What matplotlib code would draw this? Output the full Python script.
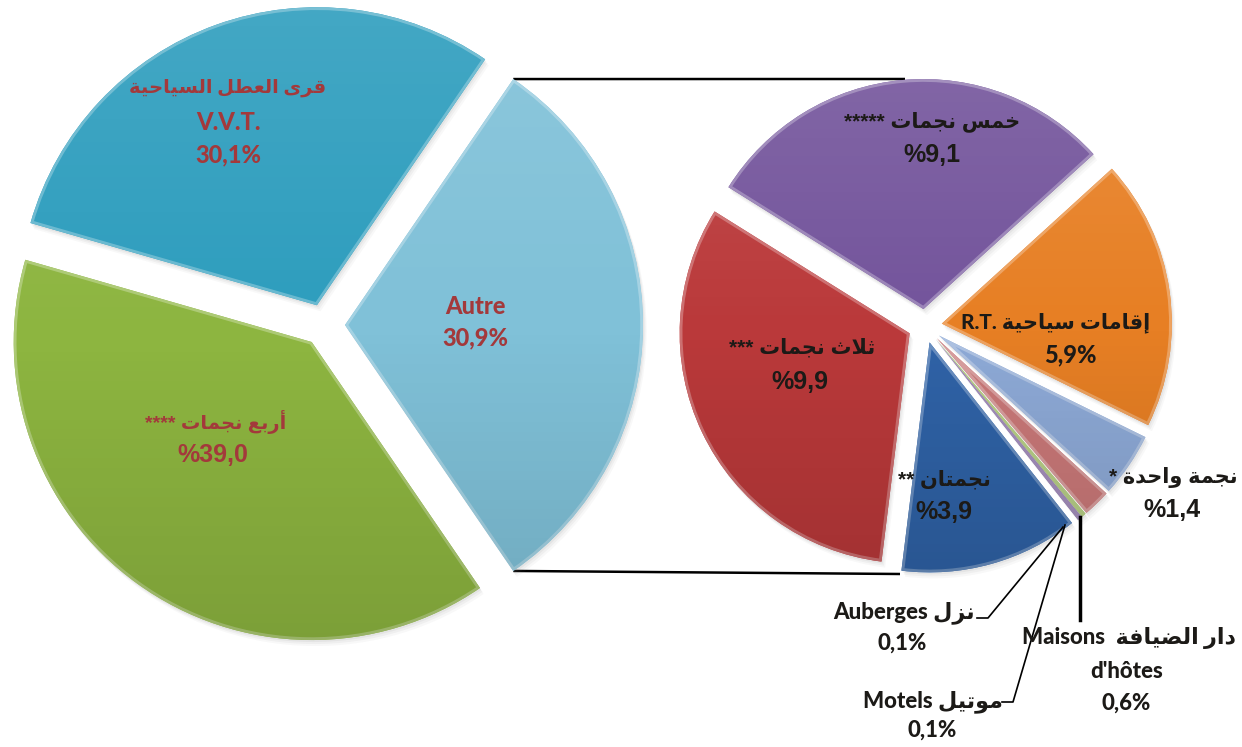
import numpy as np
import matplotlib
matplotlib.use('Agg')
import matplotlib.pyplot as plt
from matplotlib.patches import Wedge
from matplotlib.colors import to_rgb

# ---------------- data ----------------
main_names = ['Autre', 'V.V.T.', 'Quatre etoiles']
main_values = [30.9, 30.1, 39.0]
main_colors = ['#80C1D8', '#2F9EBE', '#8DB540']

sub_names = ['Cinq etoiles', 'R.T.', 'Une etoile', "Maisons d'hotes",
             'Motels', 'Auberges', 'Deux etoiles', 'Trois etoiles']
sub_values = [9.1, 5.9, 1.4, 0.6, 0.1, 0.1, 3.9, 9.9]
sub_colors = ['#74559C', '#E77F24', '#8DA9D6', '#C97878', '#9BBB59',
              '#8064A2', '#2F62A6', '#BA393A']

# ------------- arabic shaping (visual order) -------------
_D = {'ب': 0xFE8F, 'ت': 0xFE95, 'ث': 0xFE99, 'ج': 0xFE9D, 'ح': 0xFEA1,
      'خ': 0xFEA5, 'س': 0xFEB1, 'ض': 0xFEBD, 'ط': 0xFEC1, 'ع': 0xFEC9,
      'ف': 0xFED1, 'ق': 0xFED5, 'ل': 0xFEDD, 'م': 0xFEE1, 'ن': 0xFEE5,
      'ي': 0xFEF1, 'ه': 0xFEE9}
_R = {'ا': 0xFE8D, 'أ': 0xFE83, 'إ': 0xFE87, 'ة': 0xFE93, 'د': 0xFEA9,
      'ر': 0xFEAD, 'ز': 0xFEAF, 'و': 0xFEED, 'ى': 0xFEEF}
_LA = {'ا': 0xFEFB, 'أ': 0xFEF7, 'إ': 0xFEF9}


def ar(s):
    toks = []
    i = 0
    while i < len(s):
        c = s[i]
        if c == 'ل' and i + 1 < len(s) and s[i + 1] in _LA:
            toks.append(('LA', s[i + 1]))
            i += 2
        else:
            toks.append(c)
            i += 1

    def jt(t):
        if isinstance(t, tuple):
            return 'R'
        if t in _D:
            return 'D'
        if t in _R:
            return 'R'
        return 'U'

    out = []
    for k, t in enumerate(toks):
        j = jt(t)
        prev = jt(toks[k - 1]) if k > 0 else 'U'
        nxt = jt(toks[k + 1]) if k + 1 < len(toks) else 'U'
        jp = j in ('D', 'R') and prev == 'D'
        jn = j == 'D' and nxt in ('D', 'R')
        if isinstance(t, tuple):
            out.append(chr(_LA[t[1]] + (1 if jp else 0)))
        elif j == 'D':
            off = 3 if (jp and jn) else 1 if jp else 2 if jn else 0
            out.append(chr(_D[t] + off))
        elif j == 'R':
            out.append(chr(_R[t] + (1 if jp else 0)))
        else:
            out.append(t)
    return ''.join(reversed(out))


def pct(v, prefix=False):
    s = f"{v:.1f}".replace('.', ',')
    return '%' + s if prefix else s + '%'


# ---------------- figure ----------------
W, H = 1242, 747
fig = plt.figure(figsize=(W / 100, H / 100), dpi=100)
ax = fig.add_axes([0, 0, 1, 1])
ax.set_xlim(0, W)
ax.set_ylim(0, H)
ax.axis('off')


def Y(py):
    return H - py


def mix(c, o, t):
    c = np.array(to_rgb(c))
    o = np.array(to_rgb(o))
    return tuple(c * (1 - t) + o * t)


grad = np.zeros((256, 1, 4))
tt = np.linspace(0, 1, 256)
grad[:, 0, :3] = np.where(tt[:, None] < 0.5, 1.0, 0.0)
grad[:, 0, 3] = np.where(tt < 0.5, 0.10 * (1 - tt / 0.5), 0.12 * (tt - 0.5) / 0.5)


def style(wedges, colors):
    for w, c in zip(wedges, colors):
        cx, cy = w.center
        r = w.r
        # soft shadow
        for k, a in ((6, 0.05), (4, 0.07), (2, 0.09)):
            sh = Wedge((cx + k * 0.6, cy - k), r, w.theta1, w.theta2,
                       facecolor='#7a7a7a', edgecolor='none', alpha=a, zorder=1)
            ax.add_patch(sh)
        rim = Wedge((cx, cy), r, w.theta1, w.theta2, facecolor='none',
                    edgecolor=mix(c, 'white', 0.28), lw=4, zorder=2.5)
        ax.add_patch(rim)
        rim.set_clip_path(w)
        im = ax.imshow(grad, extent=(cx - r, cx + r, cy - r, cy + r),
                       origin='upper', aspect='auto', zorder=3,
                       interpolation='bilinear')
        im.set_clip_path(w)


# left pie
lw_, _ = ax.pie(main_values, colors=main_colors, startangle=-main_values[0] / 100 * 180,
                counterclock=True, center=(324, Y(325)), radius=298,
                explode=[21, 21, 21], frame=True,
                wedgeprops=dict(edgecolor='none', zorder=2))
style(lw_, main_colors)

# right pie
rw_, _ = ax.pie(sub_values, colors=sub_colors, startangle=148,
                counterclock=False, center=(925, Y(326)), radius=230,
                explode=[17] * len(sub_values), frame=True,
                wedgeprops=dict(edgecolor='none', zorder=2))
style(rw_, sub_colors)

ax.set_xlim(0, W)
ax.set_ylim(0, H)
ax.set_aspect('auto')
ax.axis('off')

# connector lines from the "Autre" wedge to the secondary pie
aw = lw_[0]
t1, t2 = np.deg2rad(aw.theta1), np.deg2rad(aw.theta2)
ax_top = (aw.center[0] + aw.r * np.cos(t2), aw.center[1] + aw.r * np.sin(t2))
ax_bot = (aw.center[0] + aw.r * np.cos(t1), aw.center[1] + aw.r * np.sin(t1))
ax.plot([ax_top[0], 905], [ax_top[1], Y(79)], color='black', lw=1.8, zorder=0.5,
        solid_capstyle='butt')
ax.plot([ax_bot[0], 900], [ax_bot[1], Y(574)], color='black', lw=1.8, zorder=0.5,
        solid_capstyle='butt')

# ---------------- labels ----------------
CAL = ['Lato', 'DejaVu Sans']
ARI = ['Liberation Sans', 'DejaVu Sans']
RED = '#A3393B'
DARK = '#1C1A17'


def T(x, y, s, fam, size, color, weight=900):
    ax.text(x, Y(y), s, family=fam, fontsize=size, fontweight=weight,
            color=color, ha='center', va='center', zorder=10)


# left pie labels
T(228, 88, ar('قرى العطل السياحية'), CAL, 14, RED)
T(228, 122, main_names[1], CAL, 17, RED)
T(228, 155, pct(main_values[1]), CAL, 17, RED)

T(216, 422, ar('أربع نجمات ****'), ARI, 14, RED)
T(213, 455, pct(main_values[2], True), ARI, 18, RED)

T(475, 307, main_names[0], CAL, 17, RED)
T(475, 338, pct(main_values[0]), CAL, 17, RED)

# right pie labels
T(932, 122, ar('خمس نجمات *****'), ARI, 15, DARK)
T(932, 155, pct(sub_values[0], True), ARI, 18, DARK)

T(1056, 323, 'R.T. ' + ar('إقامات سياحية'), CAL, 15, DARK)
T(1070, 355, pct(sub_values[1]), CAL, 17, DARK)

T(1173, 478, ar('نجمة واحدة *'), ARI, 15, DARK)
T(1172, 510, pct(sub_values[2], True), ARI, 18, DARK)

T(1129, 638, 'Maisons  ' + ar('دار الضيافة'), CAL, 16, DARK)
T(1127, 672, "d'hôtes", CAL, 16, DARK)
T(1126, 703, pct(sub_values[3]), CAL, 16, DARK)

T(933, 702, 'Motels ' + ar('موتيل'), CAL, 16, DARK)
T(932, 730, pct(sub_values[4]), CAL, 16, DARK)

T(904, 613, 'Auberges ' + ar('نزل'), CAL, 16, DARK)
T(902, 643, pct(sub_values[5]), CAL, 16, DARK)

T(944, 480, ar('نجمتان **'), ARI, 15, DARK)
T(944, 512, pct(sub_values[6], True), ARI, 18, DARK)

T(802, 348, ar('ثلاث نجمات ***'), ARI, 15, DARK)
T(800, 382, pct(sub_values[7], True), ARI, 18, DARK)

# leader lines
ax.plot([1080, 1080], [Y(517), Y(620)], color='black', lw=2.5, zorder=9)
ax.plot([977, 988, 1063], [Y(618), Y(618), Y(527)], color='black', lw=1.2, zorder=9)
ax.plot([1002, 1013, 1065], [Y(702), Y(702), Y(525)], color='black', lw=1.2, zorder=9)

fig.savefig('out.png', dpi=100)
